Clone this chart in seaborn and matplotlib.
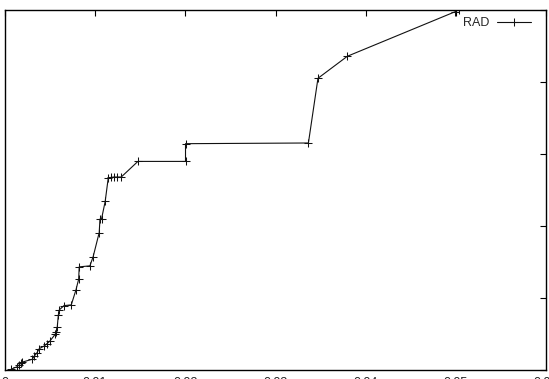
import matplotlib
matplotlib.use("Agg")
import matplotlib.pyplot as plt
import seaborn as sns
import pandas as pd

sns.set_style("white")
plt.rcParams['font.family'] = ['Liberation Sans', 'DejaVu Sans']

series_name = "RAD"
x_vals = [0.000665, 0.00136, 0.00155, 0.00174, 0.00185, 0.00302, 0.00325, 0.00351,
          0.00380, 0.00435, 0.00462, 0.00499, 0.00557, 0.00565, 0.00580, 0.00591,
          0.00602, 0.00654, 0.00735, 0.00787, 0.00817, 0.00823, 0.00942, 0.00978,
          0.01045, 0.01053, 0.01071, 0.01111, 0.01145, 0.01175, 0.01208, 0.01244,
          0.01289, 0.01474, 0.02002, 0.02002, 0.03365, 0.03471, 0.03797, 0.04990,
          0.05030]
y_vals = [0.002, 0.0092, 0.0139, 0.0186, 0.0214, 0.0297, 0.0389, 0.0464,
          0.0592, 0.0667, 0.0722, 0.0806, 0.0992, 0.1047, 0.1203, 0.1519,
          0.1667, 0.1786, 0.1806, 0.2222, 0.2519, 0.2861, 0.2889, 0.3147,
          0.3814, 0.4186, 0.4194, 0.4675, 0.5325, 0.5342, 0.5353, 0.5353,
          0.5353, 0.5786, 0.5786, 0.6278, 0.6297, 0.8092, 0.8703, 0.9936,
          1.0]
x_ticks = [0, 0.01, 0.02, 0.03, 0.04, 0.05, 0.06]
x_tick_labels = ["0", "0.01", "0.02", "0.03", "0.04", "0.05", "0.06"]
y_ticks = [0, 0.2, 0.4, 0.6, 0.8, 1.0]

df = pd.DataFrame({"x": x_vals, "y": y_vals, "series": series_name})

fig = plt.figure(figsize=(5.49, 3.79), dpi=100)
ax = fig.add_axes([5 / 549, 9 / 379, 541 / 549, 360.5 / 379])

sns.lineplot(data=df, x="x", y="y", sort=False, estimator=None, ax=ax,
             color="#111111", linewidth=0.8, marker="+", markersize=5.5,
             markeredgewidth=0.75, markeredgecolor="#111111", label=series_name)

ax.set_xlim(0, 0.06)
ax.set_ylim(0, 1.0)
ax.set_xticks(x_ticks)
ax.set_xticklabels(x_tick_labels)
ax.set_yticks(y_ticks)
ax.set_yticklabels([])
ax.set_xlabel("")
ax.set_ylabel("")
ax.tick_params(direction="in", length=4, width=0.8, top=True, right=True,
               labelsize=9, pad=5, colors="black")
ax.tick_params(axis="x", labelcolor="#222222")
for s in ax.spines.values():
    s.set_color("black")
    s.set_linewidth(1.0)

leg = ax.legend(loc="upper right", frameon=False, fontsize=9, markerfirst=False,
                handlelength=2.7, handletextpad=0.65, borderaxespad=0.0,
                bbox_to_anchor=(0.9815, 0.993))

fig.savefig("out.png", dpi=100)
